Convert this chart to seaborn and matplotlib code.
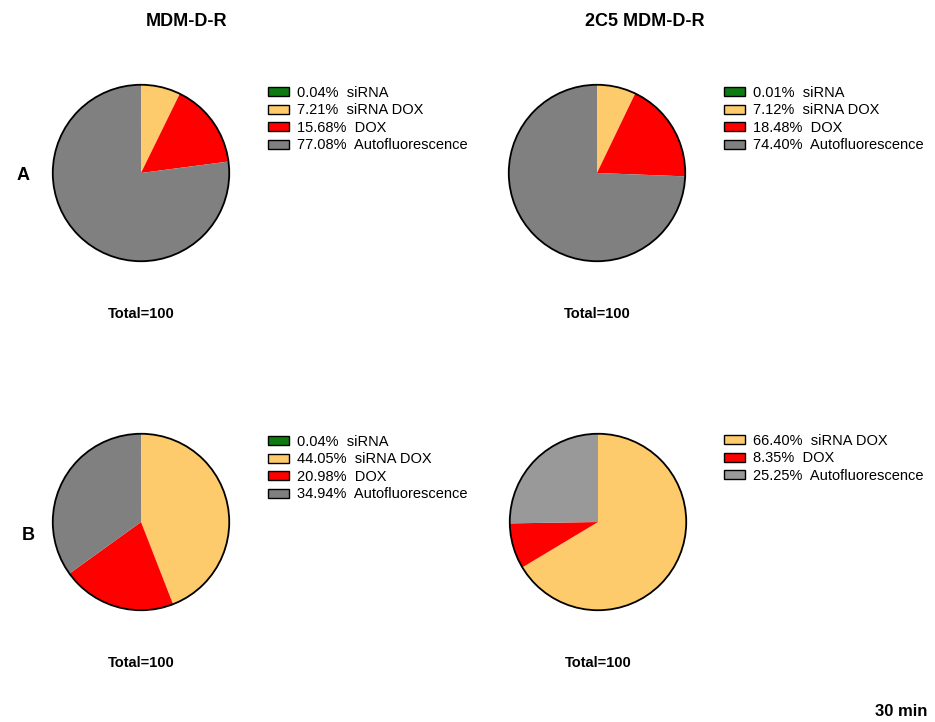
import matplotlib
matplotlib.use("Agg")
import matplotlib.pyplot as plt
from matplotlib.patches import Patch, Circle
import seaborn as sns

sns.set_theme(style="white")
plt.rcParams['font.family'] = ['Liberation Sans', 'DejaVu Sans']
plt.rcParams['text.color'] = 'black'

# ---- data ----
cats_full = ["siRNA", "siRNA DOX", "DOX", "Autofluorescence"]
a_left_vals = [0.04, 7.21, 15.68, 77.08]
a_right_vals = [0.01, 7.12, 18.48, 74.40]
b_left_vals = [0.04, 44.05, 20.98, 34.94]
b_right_cats = ["siRNA DOX", "DOX", "Autofluorescence"]
b_right_vals = [66.40, 8.35, 25.25]
col_titles = ["MDM-D-R", "2C5 MDM-D-R"]
row_labels = ["A", "B"]
total_label = "Total=100"
time_label = "30 min"

col_map = {"siRNA": "#0f7a0f", "siRNA DOX": "#fdcb6b", "DOX": "#ff0000",
           "Autofluorescence": "#808080"}
col_map_light = dict(col_map, Autofluorescence="#999999")

W, H = 935, 722
fig = plt.figure(figsize=(W / 100, H / 100), dpi=100)


def fx(x):
    return x / W


def fy(y):
    return 1 - y / H


panels = [
    (cats_full, a_left_vals, col_map, (141, 173), (268, 83)),
    (cats_full, a_right_vals, col_map, (597, 173), (724, 83)),
    (cats_full, b_left_vals, col_map, (141, 522), (268, 432)),
    (b_right_cats, b_right_vals, col_map_light, (598, 522), (724, 431)),
]
R = 90
for cats, vals, cmap, (cx, cy), (lx, ly) in panels:
    ax = fig.add_axes([fx(cx - R), fy(cy + R), R * 2 / W, R * 2 / H])
    colors = [cmap[c] for c in cats]
    wedges, _ = ax.pie(vals, colors=colors, startangle=90, counterclock=False,
                       radius=1.0, wedgeprops=dict(linewidth=0))
    ax.add_patch(Circle((0, 0), 1.0, fill=False, edgecolor="black", lw=1.3))
    ax.set_xlim(-1.02, 1.02)
    ax.set_ylim(-1.02, 1.02)
    ax.set_aspect("equal")
    ax.axis("off")
    handles = [Patch(facecolor=cmap[c], edgecolor="black", linewidth=1.0) for c in cats]
    labels = [f"{v:.2f}%  {c}" for v, c in zip(vals, cats)]
    fig.legend(handles, labels, loc="upper left",
               bbox_to_anchor=(fx(lx - 3), fy(ly)), frameon=False,
               fontsize=10.5, handlelength=1.45, handleheight=0.6,
               handletextpad=0.55, labelspacing=0.24, borderpad=0.2,
               borderaxespad=0, labelcolor="black")
    fig.text(fx(cx), fy(cy + 141), total_label, ha="center", va="center",
             fontsize=10.5, fontweight="bold")

fig.text(fx(187), fy(21.5), col_titles[0], ha="center", va="center",
         fontsize=13, fontweight="bold")
fig.text(fx(645), fy(21.5), col_titles[1], ha="center", va="center",
         fontsize=13, fontweight="bold")
fig.text(fx(23), fy(176), row_labels[0], ha="center", va="center",
         fontsize=13, fontweight="bold")
fig.text(fx(28), fy(535), row_labels[1], ha="center", va="center",
         fontsize=13, fontweight="bold")
fig.text(fx(901), fy(711), time_label, ha="center", va="center",
         fontsize=12, fontweight="bold")

fig.savefig("out.png", dpi=100)
